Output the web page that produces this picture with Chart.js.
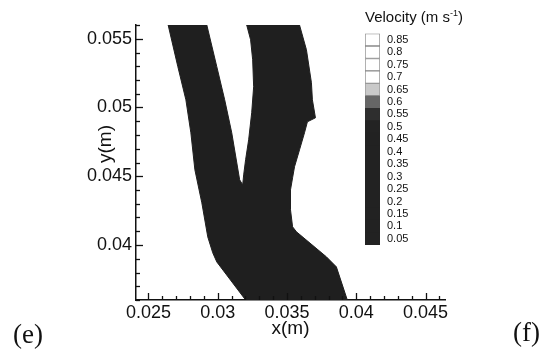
<!DOCTYPE html>
<html><head><meta charset="utf-8">
<script src="https://cdn.jsdelivr.net/npm/chart.js@4"></script>
<style>
html,body{margin:0;padding:0;background:#fff;}
#wrap{position:relative;width:545px;height:356px;overflow:hidden;background:#fff;}
#main{position:absolute;left:0;top:0;}
#cb{position:absolute;left:355px;top:20px;}
.lbl{position:absolute;font-family:"Liberation Serif","Times New Roman",serif;font-size:27px;line-height:27px;color:#111;}
#cbt{position:absolute;left:365px;top:9px;font-family:"Liberation Sans",Arial,sans-serif;font-size:15px;line-height:15px;white-space:nowrap;color:#111;}
#cbt sup{font-size:9px;vertical-align:6px;line-height:0;}
</style></head>
<body>
<div id="wrap">
<canvas id="main" width="545" height="356"></canvas>
<canvas id="cb" width="130" height="240"></canvas>
<div id="cbt">Velocity (m s<sup>-1</sup>)</div>
<div class="lbl" style="left:13px;top:321px;">(e)</div>
<div class="lbl" style="left:513px;top:319px;">(f)</div>
</div>
<script>
// ---- data ----
const xRange = [0.0241, 0.0464];
const yRange = [0.036, 0.056];
const xTickVals = [0.025, 0.03, 0.035, 0.04, 0.045];
const yTickVals = [0.04, 0.045, 0.05, 0.055];

// outline of the flow domain (x, y in metres), traced clockwise
const outlineX = [0.02642, 0.02712, 0.02770, 0.02806, 0.02835, 0.02885, 0.02928, 0.02964, 0.02993, 0.03201,
                  0.03935, 0.03856, 0.03784, 0.03568, 0.03540, 0.03525, 0.03525, 0.03540, 0.03554, 0.03590,
                  0.03626, 0.03647, 0.03705, 0.03683, 0.03676, 0.03640, 0.03590,
                  0.03209, 0.03237, 0.03252, 0.03259, 0.03245, 0.03223, 0.03201, 0.03187, 0.03180,
                  0.03158, 0.03101, 0.03050, 0.02993, 0.02921, 0.02642];
const outlineY = [0.05600, 0.05297, 0.05056, 0.04816, 0.04547, 0.04307, 0.04059, 0.03943, 0.03877, 0.03600,
                  0.03600, 0.03841, 0.03914, 0.04096, 0.04132, 0.04256, 0.04401, 0.04489, 0.04569, 0.04692,
                  0.04816, 0.04896, 0.04925, 0.05056, 0.05180, 0.05420, 0.05600,
                  0.05600, 0.05493, 0.05347, 0.05151, 0.04962, 0.04765, 0.04620, 0.04510, 0.04438,
                  0.04474, 0.04816, 0.05056, 0.05297, 0.05600, 0.05600];

// faint higher-velocity patches inside the right branch
const spotX = [0.03460, 0.03417, 0.03374, 0.03331, 0.03288, 0.03662];
const spotY = [0.05216, 0.05151, 0.05093, 0.05034, 0.04976, 0.05056];

// colour bar levels (m/s) and their fills
const cbLevels = [0.05, 0.1, 0.15, 0.2, 0.25, 0.3, 0.35, 0.4, 0.45, 0.5, 0.55, 0.6, 0.65, 0.7, 0.75, 0.8, 0.85];
const cbFills = ['#222','#222','#222','#222','#222','#222','#222','#222','#222','#232323',
                 '#2e2e2e','#666','#c9c9c9','#fff','#fff','#fff','#fff'];
const cbEdges = ['#222','#222','#222','#222','#222','#222','#222','#222','#222','#232323',
                 '#2e2e2e','#666','#999','#8a8a8a','#8a8a8a','#8a8a8a','#8a8a8a'];
const cbHalf = 0.025;

// ---- chart ----
const FONT = '"Liberation Sans", Arial, sans-serif';
const INK = '#111';

const axisDecor = {
  id: 'axisDecor',
  afterDraw(chart) {
    const {ctx, chartArea: a, scales: {x, y}} = chart;
    ctx.save();
    ctx.strokeStyle = INK;
    ctx.lineWidth = 1.3;
    // inward ticks: majors every 0.005, minors every 0.001
    for (let k = Math.ceil(y.min * 1000 - 1e-6); k <= Math.floor(y.max * 1000 + 1e-6); k++) {
      const py = Math.round(y.getPixelForValue(k / 1000)) + 0.5;
      const len = (k % 5 === 0) ? 7 : 4;
      ctx.beginPath(); ctx.moveTo(a.left, py); ctx.lineTo(a.left + len, py); ctx.stroke();
    }
    for (let k = Math.ceil(x.min * 1000 - 1e-6); k <= Math.floor(x.max * 1000 + 1e-6); k++) {
      const px = Math.round(x.getPixelForValue(k / 1000)) + 0.5;
      const len = (k % 5 === 0) ? 7 : 4;
      ctx.beginPath(); ctx.moveTo(px, a.bottom); ctx.lineTo(px, a.bottom - len); ctx.stroke();
    }
    // axis titles
    ctx.fillStyle = INK;
    ctx.font = '19px ' + FONT;
    ctx.textAlign = 'center';
    ctx.textBaseline = 'middle';
    ctx.fillText('x(m)', (a.left + a.right) / 2, 329);
    ctx.translate(106, 144);
    ctx.rotate(-Math.PI / 2);
    ctx.fillText('y(m)', 0, 0);
    ctx.restore();
  }
};

new Chart(document.getElementById('main'), {
  type: 'scatter',
  data: {
    datasets: [
      {
        data: outlineX.map((v, i) => ({x: v, y: outlineY[i]})),
        showLine: true, fill: 'shape', tension: 0,
        backgroundColor: '#1f1f1f', borderColor: '#1f1f1f', borderWidth: 1,
        pointRadius: 0
      },
      {
        data: spotX.map((v, i) => ({x: v, y: spotY[i]})),
        showLine: false, pointRadius: 2.5, pointBorderWidth: 0,
        backgroundColor: 'rgba(110,110,110,0.7)'
      }
    ]
  },
  options: {
    responsive: false, animation: false,
    plugins: {legend: {display: false}, tooltip: {enabled: false}},
    layout: {padding: {top: 25, right: 100, left: 0, bottom: 0}},
    scales: {
      x: {
        type: 'linear', min: xRange[0], max: xRange[1],
        afterFit: s => { s.height = 56; },
        afterBuildTicks: s => { s.ticks = xTickVals.map(v => ({value: v})); },
        ticks: {callback: v => String(v), font: {family: FONT, size: 18}, color: INK, padding: 2, maxRotation: 0, autoSkip: false},
        grid: {display: false, drawTicks: false},
        border: {display: true, color: INK, width: 1.5}
      },
      y: {
        type: 'linear', min: yRange[0], max: yRange[1],
        afterFit: s => { s.width = 136; },
        afterBuildTicks: s => { s.ticks = yTickVals.map(v => ({value: v})); },
        ticks: {callback: v => String(v), font: {family: FONT, size: 18}, color: INK, padding: 4, autoSkip: false},
        grid: {display: false, drawTicks: false},
        border: {display: true, color: INK, width: 1.5}
      }
    }
  },
  plugins: [axisDecor]
});

// ---- colour bar ----
const cbBackdrop = {
  id: 'cbBackdrop',
  beforeDatasetsDraw(chart) {
    const {ctx, chartArea: a, scales: {y}} = chart;
    const top = y.getPixelForValue(cbLevels[10] - cbHalf);
    ctx.save();
    ctx.fillStyle = cbFills[0];
    ctx.fillRect(a.left, top, a.right - a.left, a.bottom - top);
    ctx.restore();
  }
};

new Chart(document.getElementById('cb'), {
  type: 'bar',
  data: {
    labels: [''],
    datasets: cbLevels.map((v, i) => ({
      data: [[v - cbHalf, v + cbHalf]],
      backgroundColor: cbFills[i], borderColor: cbEdges[i], borderWidth: i < 10 ? 0 : 1, borderSkipped: false,
      barPercentage: 1, categoryPercentage: 1
    }))
  },
  options: {
    responsive: false, animation: false,
    plugins: {legend: {display: false}, tooltip: {enabled: false}},
    layout: {padding: {left: 10, top: 7, bottom: 15, right: 0}},
    scales: {
      x: {display: false, stacked: true},
      y: {
        position: 'right', min: cbLevels[0] - cbHalf, max: cbLevels[cbLevels.length - 1] + cbHalf, stacked: false,
        afterFit: s => { s.width = 105; },
        afterBuildTicks: s => { s.ticks = cbLevels.map(v => ({value: v})); },
        ticks: {callback: v => String(v), font: {family: FONT, size: 11}, color: INK, padding: 7, autoSkip: false},
        grid: {display: false, drawTicks: false},
        border: {display: false}
      }
    }
  },
  plugins: [cbBackdrop]
});
</script>
</body></html>
